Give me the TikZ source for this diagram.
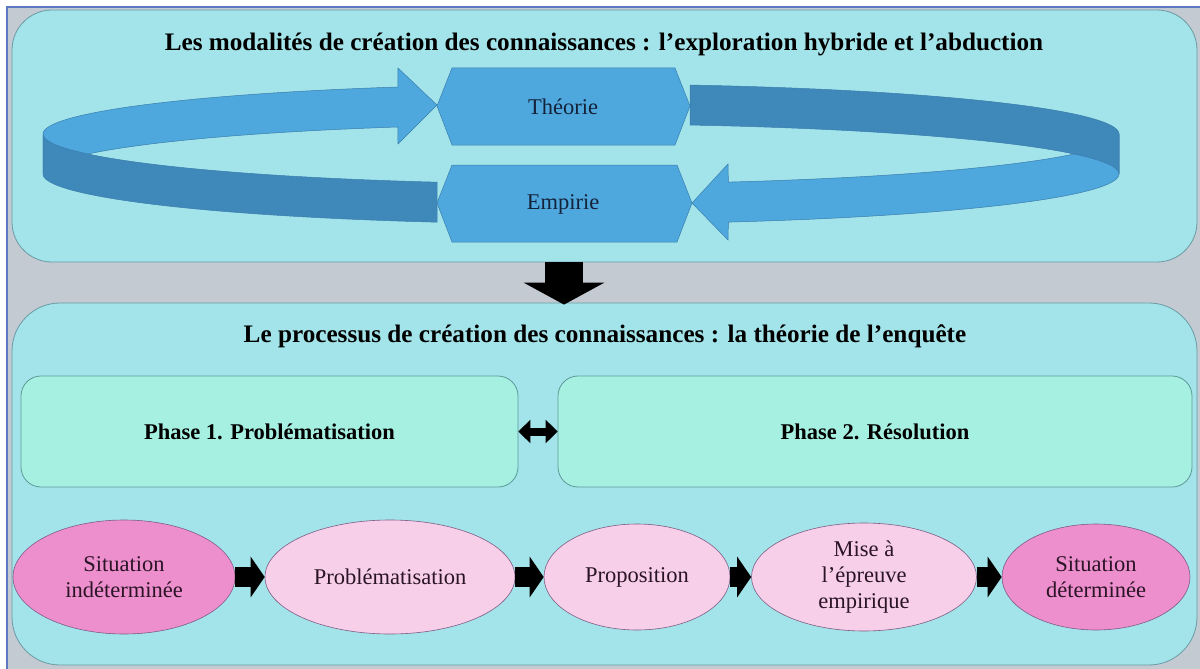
\documentclass[tikz,border=0pt]{standalone}
\usepackage{fontspec}
\setmainfont{Liberation Serif}
\newfontfamily\tnr{Liberation Serif}
\usetikzlibrary{shapes.geometric,arrows.meta}
\definecolor{bggray}{HTML}{C4CAD2}
\definecolor{frameblue}{HTML}{5B78C0}
\definecolor{panelfill}{HTML}{A2E4E9}
\definecolor{panelline}{HTML}{6A9AA5}
\definecolor{phasefill}{HTML}{A6F0E2}
\definecolor{phaseline}{HTML}{5E9999}
\definecolor{lightblue}{HTML}{4EA8DD}
\definecolor{darkblue}{HTML}{3F89BA}
\definecolor{bandline}{HTML}{3A7DAE}
\definecolor{pinklight}{HTML}{F7CFE8}
\definecolor{pinkdark}{HTML}{EE8FCD}
\definecolor{ellline}{HTML}{7E5C86}
\definecolor{elltext}{HTML}{2A1426}
\definecolor{hextext}{HTML}{14223A}
\tikzset{
  panel/.style={draw=panelline, line width=0.8pt, fill=panelfill, inner sep=0pt},
  phasebox/.style={draw=phaseline, line width=0.8pt, fill=phasefill, rounded corners=20pt, inner sep=0pt, minimum height=111pt, font=\tnr\fontsize{22.5}{26}\selectfont\bfseries},
  titletext/.style={font=\tnr\fontsize{25.2}{29}\selectfont\bfseries, text=black},
  ell/.style={ellipse, draw=ellline, line width=0.6pt, inner sep=0pt, align=center, text=elltext, font=\tnr\fontsize{22.5}{26}\selectfont},
  hexlabel/.style={text=hextext, font=\tnr\fontsize{22.5}{26}\selectfont},
  blockarrow/.style={line width=20pt, black, -{Triangle[length=14pt,width=40pt]}},
  band/.style={draw=bandline, line width=0.5pt}
}
\begin{document}
\begin{tikzpicture}[x=1pt,y=-1pt]
\useasboundingbox (0,0) rectangle (1200,669);
\fill[white] (0,0) rectangle (1200,669);
\fill[bggray] (7,7) rectangle (1200,669);
\draw[frameblue, line width=1.6pt] (7,669) -- (7,7) -- (1200,7);

% panels
\node[panel, minimum width=1185pt, minimum height=252pt, rounded corners=40pt] (top) at (604.5,136) {};
\node[panel, minimum width=1185pt, minimum height=362pt, rounded corners=48pt] (bot) at (604.5,484) {};

\node[titletext] (t1) at (604,44) {Les modalités de création des connaissances : l’exploration hybride et l’abduction};
\node[titletext] (t2) at (605,336) {Le processus de création des connaissances : la théorie de l’enquête};

% ring: back-left (light) with arrow head
\filldraw[band, fill=lightblue] (437,105) -- (398,68)
  -- plot[domain=109.9:180,samples=50] ({581+538*cos(\x)},{134-50*sin(\x)})
  -- plot[domain=180:109.9,samples=50] ({581+538*cos(\x)},{174-50*sin(\x)})
  -- (398,144) -- cycle;
% front-left (dark)
\filldraw[band, fill=darkblue]
  plot[domain=180:254.5,samples=50] ({581+538*cos(\x)},{134-50*sin(\x)})
  -- plot[domain=254.5:180,samples=50] ({581+538*cos(\x)},{174-50*sin(\x)})
  -- cycle;
% front-right (light) with arrow head
\filldraw[band, fill=lightblue] (692,203) -- (728,164)
  -- plot[domain=285.9:360,samples=50] ({581+538*cos(\x)},{134-50*sin(\x)})
  -- plot[domain=360:285.9,samples=50] ({581+538*cos(\x)},{174-50*sin(\x)})
  -- (728,240) -- cycle;
% back-right (dark)
\filldraw[band, fill=darkblue]
  plot[domain=78.3:0,samples=50] ({581+538*cos(\x)},{134-50*sin(\x)})
  -- plot[domain=0:78.3,samples=50] ({581+538*cos(\x)},{174-50*sin(\x)})
  -- cycle;

% hexagons
\filldraw[band, fill=lightblue] (437,106) -- (452,68) -- (675,68) -- (690,106) -- (675,145) -- (452,145) -- cycle;
\filldraw[band, fill=lightblue] (437,203) -- (452,165) -- (677,165) -- (692,203) -- (677,242) -- (452,242) -- cycle;
\node[hexlabel] (theo) at (563,107) {Théorie};
\node[hexlabel] (emp) at (563,204) {Empirie};

% down arrow
\draw[line width=38pt, black, -{Triangle[length=22pt,width=80pt]}] ([xshift=-40.5pt]top.south) -- ([xshift=-40.5pt,yshift=-2pt]bot.north);

% phases
\node[phasebox, minimum width=497pt] (p1) at (269.5,431.5) {Phase 1. Problématisation};
\node[phasebox, minimum width=634pt] (p2) at (875,431.5) {Phase 2. Résolution};
\draw[line width=8pt, black, {Triangle[length=12pt,width=23pt]}-{Triangle[length=12pt,width=23pt]}] (p1.east) -- (p2.west);

% ellipses
\node[ell, fill=pinkdark, minimum width=222pt, minimum height=114pt] (s1) at (124,577) {Situation\\indéterminée};
\node[ell, fill=pinklight, minimum width=250pt, minimum height=114pt] (s2) at (390,577) {Problématisation};
\node[ell, fill=pinklight, minimum width=186pt, minimum height=106pt] (s3) at (637,577) {Proposition};
\node[ell, fill=pinklight, minimum width=225pt, minimum height=108pt] (s4) at (864,577) {Mise à\\l’épreuve\\empirique};
\node[ell, fill=pinkdark, minimum width=188pt, minimum height=106pt] (s5) at (1096,577) {Situation\\déterminée};

\draw[blockarrow] (s1.east) -- (s2.west);
\draw[blockarrow] (s2.east) -- (s3.west);
\draw[blockarrow] (s3.east) -- (s4.west);
\draw[blockarrow] (s4.east) -- (s5.west);
\end{tikzpicture}
\end{document}
